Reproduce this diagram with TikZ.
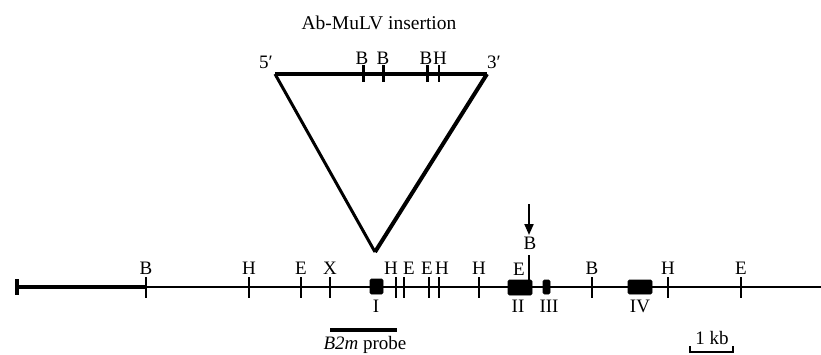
\documentclass[tikz,border=0pt]{standalone}
\usepackage{fontspec}
\setmainfont{Liberation Serif}
\usetikzlibrary{arrows.meta}
\begin{document}
\begin{tikzpicture}[x=1pt,y=-1pt,
  lbl/.style={inner sep=0pt,font=\fontsize{19}{19}\selectfont},
  exon/.style={fill=black,draw=black,line width=0.8pt,rounded corners=1.5pt},
  mainline/.style={line width=2.8pt}]
\useasboundingbox (0,0) rectangle (821,354);
% main chromosome line
\coordinate (L) at (17,287);
\coordinate (R) at (821,287);
\draw[line width=3.6pt] (L) -- (146,287);
\draw[mainline] (146,287) -- (R);
\draw[line width=4pt] (17,279) -- (17,295);
% ticks on main line
\foreach \x/\w in {146/2.2,249/1.5,301/1.5,330/2.2,396/1.5,404/1.5,429/1.5,439/1.5,479/1.5,592/2.2,668/1.5,741/1.5}
  \draw[line width=\w pt] (\x,277) -- (\x,298);
% labels
\node[lbl] (b1) at (146,268) {B};
\node[lbl] (h1) at (249,268) {H};
\node[lbl] (e1) at (301,268) {E};
\node[lbl] (x1) at (330,268) {X};
\node[lbl] (h2) at (391,268) {H};
\node[lbl] (e2) at (409,268) {E};
\node[lbl] (e3) at (427,268) {E};
\node[lbl] (h3) at (442,268) {H};
\node[lbl] (h4) at (479,268) {H};
\node[lbl] (e4) at (519,269) {E};
\node[lbl] (b2) at (530,243) {B};
\node[lbl] (b3) at (592,268) {B};
\node[lbl] (h5) at (668,268) {H};
\node[lbl] (e5) at (741,268) {E};
% exons
\draw[exon] (370,279) rectangle (383,294);
\draw[exon] (508,280) rectangle (532,295);
\draw[exon] (543,280) rectangle (550,294);
\draw[exon] (628,280) rectangle (652,294);
\node[lbl] (ex1) at (376,306) {I};
\node[lbl] (ex2) at (518,306) {II};
\node[lbl] (ex3) at (549,306) {III};
\node[lbl] (ex4) at (640,306) {IV};
% insertion site B with arrow
\draw[line width=2.4pt] (529,255) -- (529,293);
\coordinate (arT) at (529,204);
\draw[line width=2pt,-{Triangle[length=11pt,width=9pt]}] (arT) -- (529,235);
% probe
\draw[line width=3.4pt] (330,330) -- (397,330);
\node[lbl] (probe) at (365,345) {\textit{B2m} probe};
% scale bar
\node[lbl] (kb) at (712,338) {1 kb};
\draw[line width=2pt] (690,346) -- (690,352) -- (733,352) -- (733,346);
% insertion triangle
\coordinate (T5) at (275,74);
\coordinate (T3) at (487,74);
\coordinate (Tb) at (375,252);
\draw[line width=3.6pt,line join=round] (T5) -- (T3);
\draw[line width=3pt,line join=round] (T5) -- (Tb);
\draw[line width=4pt,line join=round] (Tb) -- (T3);
\foreach \x/\w in {363/3,383/3,427/3,439/1.6}
  \draw[line width=\w pt] (\x,65) -- (\x,82);
\node[lbl] (tb1) at (362,58) {B};
\node[lbl] (tb2) at (383,58) {B};
\node[lbl] (tb3) at (426,58) {B};
\node[lbl] (th1) at (440,58) {H};
\node[lbl] (p5) at (266,62) {5′};
\node[lbl] (p3) at (494,62) {3′};
\node[lbl,font=\fontsize{19.5}{19.5}\selectfont] (title) at (379,23) {Ab-MuLV insertion};
\end{tikzpicture}
\end{document}
